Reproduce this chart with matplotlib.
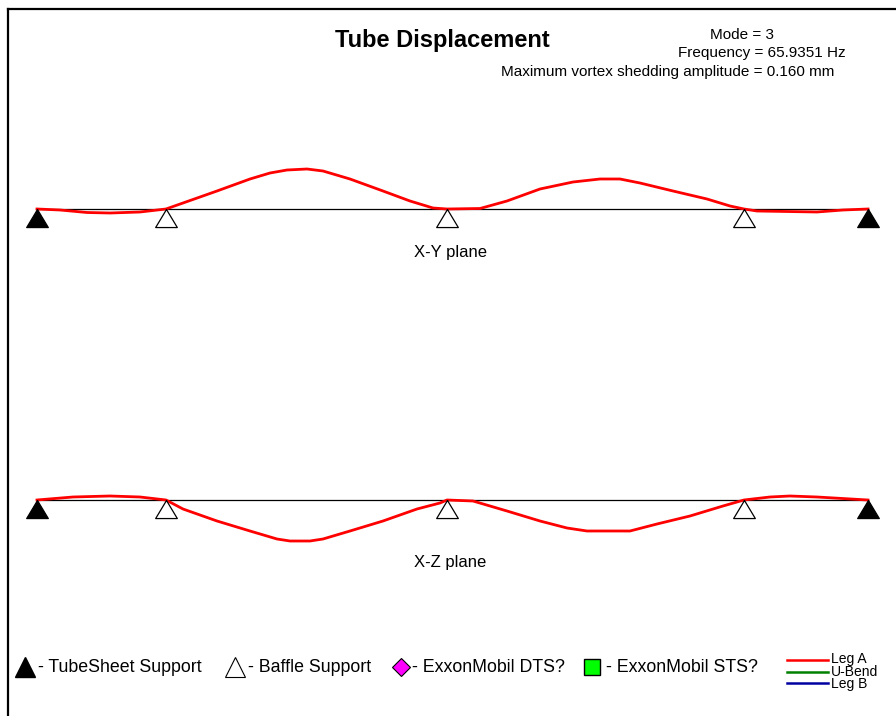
import numpy as np
import matplotlib
matplotlib.use('Agg')
import matplotlib.pyplot as plt

plt.rcParams['font.family'] = ['Liberation Sans', 'DejaVu Sans']

# tube positions of supports and their kind
support_pos = [0, 12.9, 41.0, 70.7, 83.1]
support_kind = ['tubesheet', 'baffle', 'baffle', 'baffle', 'tubesheet']

# mode shape (arbitrary displacement units)
xy_pos = [0, 2.3, 5.0, 7.3, 10.3, 12.9, 14.6, 18.0, 21.3, 23.3, 25.0, 27.0, 28.6, 31.3, 34.6,
          37.3, 39.6, 41.0, 44.3, 47.0, 50.3, 53.6, 56.3, 58.3, 60.3, 63.6, 67.0, 69.3, 70.7,
          72.0, 78.0, 80.6, 83.1]
xy_disp = [0, -1, -3.5, -4, -3, 0, 6, 18, 30, 36, 39, 40, 38, 30, 18,
           8, 1, 0, 0.5, 8, 20, 27, 30, 30, 26, 18, 10, 3, 0,
           -2, -3, -1, 0]

xz_pos = [0, 3.6, 7.3, 10.3, 12.9, 14.6, 18.0, 21.3, 24.0, 25.3, 27.3, 28.6, 31.3, 34.6, 38.0,
          40.3, 41.0, 43.6, 47.0, 50.3, 53.0, 55.0, 59.3, 62.0, 65.3, 68.6, 70.7, 73.3, 75.3,
          78.0, 83.1]
xz_disp = [0, 3, 4, 3, 0, -9, -21, -31, -39, -41, -41, -39, -31, -21, -9,
           -3, 0, -1, -11, -21, -28, -31, -31, -24, -16, -6, 0, 3, 4,
           3, 0]

mode = 3
freq = 65.9351
amp = 0.160

W, H = 896, 716
fig = plt.figure(figsize=(W / 100, H / 100), dpi=100)

# overlay in pixel units for border, titles and the legend row
ov = fig.add_axes([0, 0, 1, 1])
ov.set_xlim(0, W)
ov.set_ylim(H, 0)
ov.axis('off')
ov.plot([8, 8], [9, H], color='black', lw=1.6)
ov.plot([8, W], [9, 9], color='black', lw=1.6)

ov.text(442, 41, 'Tube Displacement', ha='center', va='center', fontsize=17, fontweight='bold')
ov.text(742, 35, 'Mode = %d' % mode, ha='center', va='center', fontsize=11)
ov.text(762, 53, 'Frequency = %.4f Hz' % freq, ha='center', va='center', fontsize=11)
ov.text(668, 72, 'Maximum vortex shedding amplitude = %.3f mm' % amp, ha='center', va='center', fontsize=11)

# apex-down triangle marker (apex at the data point)
tri = [(0, 0), (-0.6, -1), (0.6, -1), (0, 0)]


def draw_plane(rect, ylim, pos, disp, label, label_y):
    ax = fig.add_axes(rect)
    ax.set_xlim(-3.7, 85.9)
    ax.set_ylim(*ylim)
    ax.axis('off')
    ax.plot([support_pos[0], support_pos[-1]], [0, 0], color='black', lw=0.9, zorder=1)
    ax.plot(pos, disp, color='#ff0000', lw=2.0, zorder=2)
    for p, k in zip(support_pos, support_kind):
        fc = 'black' if k == 'tubesheet' else 'white'
        ax.plot(p, 0, marker=tri, ms=26, mfc=fc, mec='black', mew=0.9, zorder=3)
    ov.text(450, label_y, label, ha='center', va='center', fontsize=12)
    return ax


draw_plane([0, 1 - 300 / H, 1, 200 / H], (-91, 109), xy_pos, xy_disp, 'X-Y plane', 252)
draw_plane([0, 1 - 600 / H, 1, 200 / H], (-100, 100), xz_pos, xz_disp, 'X-Z plane', 562)

# legend row
ly = 667
fs = 12.8
ov.plot(25, ly, marker='^', ms=14, mfc='black', mec='black', lw=0)
ov.text(38, ly, '- TubeSheet Support', ha='left', va='center', fontsize=fs)
ov.plot(235, ly, marker='^', ms=14, mfc='white', mec='black', mew=0.8, lw=0)
ov.text(248, ly, '- Baffle Support', ha='left', va='center', fontsize=fs)
ov.plot(401, ly, marker='D', ms=9, mfc='#ff00ff', mec='black', mew=0.8, lw=0)
ov.text(412, ly, '- ExxonMobil DTS?', ha='left', va='center', fontsize=fs)
ov.plot(592, ly, marker='s', ms=11, mfc='#00ff00', mec='black', mew=1.0, lw=0)
ov.text(606, ly, '- ExxonMobil STS?', ha='left', va='center', fontsize=fs)

legs = ['Leg A', 'U-Bend', 'Leg B']
leg_colors = ['#ff0000', '#008000', '#0000a0']
for i, c in enumerate(leg_colors):
    yy = 660 + i * 11.5
    ov.plot([787, 828], [yy, yy], color=c, lw=1.8)
ov.text(831, 671.5, '\n'.join(legs), ha='left', va='center', fontsize=10, linespacing=0.85)

fig.savefig('out.png', dpi=100)
